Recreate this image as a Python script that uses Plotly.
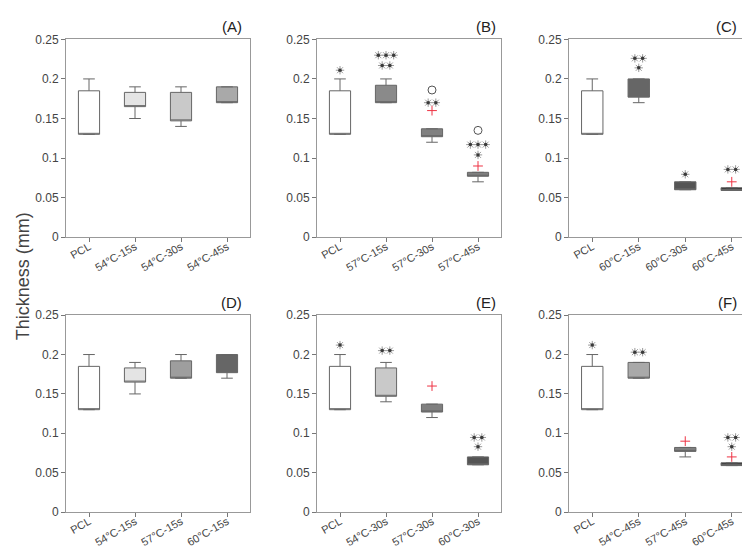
import plotly.graph_objects as go

# ---- data ----
group_names = ["PCL", "54°C-15s", "54°C-30s", "54°C-45s", "57°C-15s", "57°C-30s",
               "57°C-45s", "60°C-15s", "60°C-30s", "60°C-45s"]
lower_fence = [0.13, 0.15, 0.14, 0.17, 0.17, 0.12, 0.07, 0.17, 0.06, 0.059]
q1_vals     = [0.13, 0.165, 0.147, 0.17, 0.17, 0.127, 0.077, 0.177, 0.06, 0.059]
median_vals = [0.13, 0.165, 0.147, 0.17, 0.17, 0.127, 0.077, 0.177, 0.06, 0.059]
q3_vals     = [0.185, 0.183, 0.183, 0.19, 0.192, 0.137, 0.082, 0.2, 0.07, 0.0625]
upper_fence = [0.2, 0.19, 0.19, 0.19, 0.2, 0.137, 0.082, 0.2, 0.07, 0.0625]

panel_labels = ["(A)", "(B)", "(C)", "(D)", "(E)", "(F)"]
panel_groups = [
    ["PCL", "54°C-15s", "54°C-30s", "54°C-45s"],
    ["PCL", "57°C-15s", "57°C-30s", "57°C-45s"],
    ["PCL", "60°C-15s", "60°C-30s", "60°C-45s"],
    ["PCL", "54°C-15s", "57°C-15s", "60°C-15s"],
    ["PCL", "54°C-30s", "57°C-30s", "60°C-30s"],
    ["PCL", "54°C-45s", "57°C-45s", "60°C-45s"],
]
panel_colors = [
    ["#ffffff", "#e4e4e4", "#c9c9c9", "#a9a9a9"],
    ["#ffffff", "#8a8a8a", "#808080", "#808080"],
    ["#ffffff", "#666666", "#555555", "#333333"],
    ["#ffffff", "#e4e4e4", "#9e9e9e", "#666666"],
    ["#ffffff", "#c9c9c9", "#7f7f7f", "#555555"],
    ["#ffffff", "#a9a9a9", "#808080", "#333333"],
]
# red "+" outliers: (panel, category index, value)
outlier_panel = [1, 1, 2, 4, 5, 5]
outlier_cat   = [2, 3, 3, 2, 2, 3]
outlier_val   = [0.16, 0.09, 0.07, 0.16, 0.09, 0.07]
# open circles: (panel, category index, value)
circle_panel = [1, 1]
circle_cat   = [2, 3]
circle_val   = [0.186, 0.135]
# significance stars: (panel, category index, value, count)
star_panel = [1, 1, 1, 1, 1, 1, 2, 2, 2, 2, 4, 4, 4, 4, 5, 5, 5, 5]
star_cat   = [0, 1, 1, 2, 3, 3, 1, 1, 2, 3, 0, 1, 3, 3, 0, 1, 3, 3]
star_val   = [0.211, 0.23, 0.217, 0.17, 0.117, 0.104,
              0.226, 0.214, 0.0795, 0.0857,
              0.212, 0.205, 0.0947, 0.083,
              0.212, 0.203, 0.0947, 0.083]
star_count = [1, 3, 2, 2, 3, 1, 2, 1, 1, 2, 1, 2, 2, 1, 1, 2, 2, 1]
y_ticks = [0, 0.05, 0.1, 0.15, 0.2, 0.25]
y_ticktext = ["0", "0.05", "0.1", "0.15", "0.2", "0.25"]

# ---- layout geometry ----
W, H = 750, 551
col_px = [(58, 242), (309, 493), (561, 747)]
row_px = [(25, 228), (308, 510)]
label_right_px = [236, 490, 731]
label_y_px = [12, 295]

fig = go.Figure()
FONT = "Liberation Sans, Arial, sans-serif"
STAR_STEP = 0.167

for p in range(6):
    r, c = divmod(p, 3)
    ax = "" if p == 0 else str(p + 1)
    xref, yref = "x" + ax, "y" + ax
    for i, g in enumerate(panel_groups[p]):
        k = group_names.index(g)
        fig.add_trace(go.Box(
            x=[i], q1=[q1_vals[k]], median=[median_vals[k]], q3=[q3_vals[k]],
            lowerfence=[lower_fence[k]], upperfence=[upper_fence[k]],
            width=0.46, whiskerwidth=0.55, boxpoints=False,
            fillcolor=panel_colors[p][i],
            line=dict(color="#666666", width=1),
            xaxis=xref, yaxis=yref, showlegend=False, hoverinfo="skip"))
    # outliers
    ox = [outlier_cat[j] for j in range(len(outlier_panel)) if outlier_panel[j] == p]
    oy = [outlier_val[j] for j in range(len(outlier_panel)) if outlier_panel[j] == p]
    if ox:
        fig.add_trace(go.Scatter(x=ox, y=oy, mode="markers",
            marker=dict(symbol="cross-thin-open", size=7, color="#ee3344",
                        line=dict(color="#ee3344", width=1)),
            xaxis=xref, yaxis=yref, showlegend=False, hoverinfo="skip"))
    cx = [circle_cat[j] for j in range(len(circle_panel)) if circle_panel[j] == p]
    cy = [circle_val[j] for j in range(len(circle_panel)) if circle_panel[j] == p]
    if cx:
        fig.add_trace(go.Scatter(x=cx, y=cy, mode="markers",
            marker=dict(symbol="circle-open", size=8, color="#555555",
                        line=dict(color="#555555", width=1)),
            xaxis=xref, yaxis=yref, showlegend=False, hoverinfo="skip"))
    sx, sy = [], []
    for j in range(len(star_panel)):
        if star_panel[j] != p:
            continue
        n = star_count[j]
        for m in range(n):
            sx.append(star_cat[j] + (m - (n - 1) / 2) * STAR_STEP)
            sy.append(star_val[j])
    if sx:
        fig.add_trace(go.Scatter(x=sx, y=sy, mode="markers",
            marker=dict(symbol="asterisk-open", size=7, color="#9a9a9a",
                        line=dict(color="#9a9a9a", width=1)),
            xaxis=xref, yaxis=yref, showlegend=False, hoverinfo="skip"))
        fig.add_trace(go.Scatter(x=sx, y=sy, mode="markers",
            marker=dict(symbol="circle", size=3.5, color="#3a3a3a", line=dict(width=0)),
            xaxis=xref, yaxis=yref, showlegend=False, hoverinfo="skip"))

    x0, x1 = col_px[c]
    y0, y1 = row_px[r]
    fig.update_layout({
        "xaxis" + ax: dict(
            domain=[x0 / W, x1 / W], anchor=yref, range=[-0.5, 3.5],
            tickvals=[0, 1, 2, 3], ticktext=panel_groups[p], tickangle=-30,
            ticks="outside", ticklen=4, tickcolor="#777777",
            ticklabelstandoff=-6,
            showline=True, mirror=True, linecolor="#999999", linewidth=1,
            showgrid=False, zeroline=False,
            tickfont=dict(family=FONT, size=11, color="#444444")),
        "yaxis" + ax: dict(
            domain=[1 - y1 / H, 1 - y0 / H], anchor=xref, range=[0, 0.25],
            tickvals=y_ticks, ticktext=y_ticktext,
            ticks="outside", ticklen=4, tickcolor="#777777",
            showline=True, mirror=True, linecolor="#999999", linewidth=1,
            showgrid=False, zeroline=False,
            tickfont=dict(family=FONT, size=12, color="#444444")),
    })
    fig.add_annotation(text=panel_labels[p], xref="paper", yref="paper",
                       x=label_right_px[c] / W, y=1 - label_y_px[r] / H,
                       xanchor="right", yanchor="middle", showarrow=False,
                       font=dict(family=FONT, size=15, color="#222222"))

fig.add_annotation(text="Thickness (mm)", xref="paper", yref="paper",
                   x=15 / W, y=1 - 268 / H, textangle=-90,
                   xanchor="center", yanchor="middle", showarrow=False,
                   font=dict(family=FONT, size=18, color="#444444"))

fig.update_layout(width=W, height=H, margin=dict(l=0, r=0, t=0, b=0),
                  paper_bgcolor="white", plot_bgcolor="white", boxmode="overlay")
fig.write_html("out.html")
